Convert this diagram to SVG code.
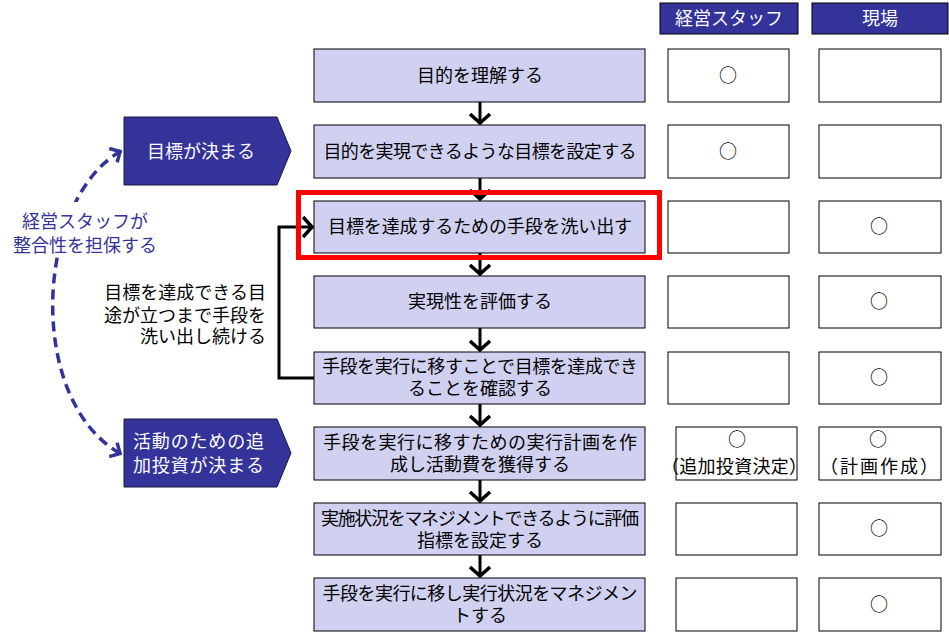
<svg xmlns="http://www.w3.org/2000/svg" width="949" height="639" viewBox="0 0 949 639">
<style>
text{font-family:"Noto Sans CJK JP","Noto Sans CJK SC",sans-serif;font-size:18px;fill:#000}
.step{fill:#d0d0f0;stroke:#000;stroke-width:1}
.cell{fill:#fff;stroke:#000;stroke-width:1}
.hdr{fill:#333399;stroke:#000;stroke-width:1}
.pent{fill:#333399;stroke:#1a1a40;stroke-width:1}
.w{fill:#fff}
.c{text-anchor:middle}
.r{text-anchor:end}
.blue{fill:#333399}
.conn{fill:none;stroke:#000;stroke-width:3}
.dash{fill:none;stroke:#333399;stroke-width:3.5;stroke-dasharray:10 6}
</style>
<defs>
<marker id="chev" viewBox="0 0 12 24" refX="11" refY="12" markerWidth="12" markerHeight="24" markerUnits="userSpaceOnUse" orient="auto">
<path d="M1,2 L10,12 L1,22" fill="none" stroke="#000" stroke-width="3.5"/>
</marker>
<marker id="chevb" viewBox="0 0 12 20" refX="10" refY="10" markerWidth="12" markerHeight="20" markerUnits="userSpaceOnUse" orient="auto-start-reverse">
<path d="M1,2 L9,10 L1,18" fill="none" stroke="#333399" stroke-width="3.5"/>
</marker>
</defs>

<g id="header-staff"><rect class="hdr" x="660" y="3" width="138" height="31"/><text class="w c" x="729" y="25" font-size="17">経営スタッフ</text></g>
<g id="header-genba"><rect class="hdr" x="812" y="3" width="136" height="31"/><text class="w c" x="880" y="25" font-size="17">現場</text></g>

<g id="connectors">
<line class="conn" x1="480" y1="102" x2="480" y2="124" marker-end="url(#chev)"/>
<line class="conn" x1="480" y1="178" x2="480" y2="200" marker-end="url(#chev)"/>
<line class="conn" x1="480" y1="253" x2="480" y2="275" marker-end="url(#chev)"/>
<line class="conn" x1="480" y1="328" x2="480" y2="351" marker-end="url(#chev)"/>
<line class="conn" x1="480" y1="404" x2="480" y2="426" marker-end="url(#chev)"/>
<line class="conn" x1="480" y1="480" x2="480" y2="502" marker-end="url(#chev)"/>
<line class="conn" x1="480" y1="555" x2="480" y2="577" marker-end="url(#chev)"/>
<path class="conn" d="M314,378 H279 V227 H313" marker-end="url(#chev)"/>
<path class="dash" d="M121,151 C35,200 25,400 121,454" marker-start="url(#chevb)" marker-end="url(#chevb)"/>
</g>

<g id="step1"><rect class="step" x="314" y="49" width="331" height="53"/><text class="c" x="480" y="82">目的を理解する</text></g>
<g id="step2"><rect class="step" x="314" y="125" width="331" height="53"/><text class="c" x="480" y="158" textLength="313">目的を実現できるような目標を設定する</text></g>
<g id="step3"><rect class="step" x="314" y="201" width="331" height="52"/><text class="c" x="480" y="233" textLength="304">目標を達成するための手段を洗い出す</text></g>
<g id="step4"><rect class="step" x="314" y="276" width="331" height="52"/><text class="c" x="480" y="308">実現性を評価する</text></g>
<g id="step5"><rect class="step" x="314" y="352" width="331" height="52"/><text class="c" x="480" y="373"><tspan x="480" textLength="316">手段を実行に移すことで目標を達成でき</tspan><tspan x="480" dy="22">ることを確認する</tspan></text></g>
<g id="step6"><rect class="step" x="314" y="427" width="331" height="53"/><text class="c" x="480" y="449"><tspan x="480" textLength="314">手段を実行に移すための実行計画を作</tspan><tspan x="480" dy="22">成し活動費を獲得する</tspan></text></g>
<g id="step7"><rect class="step" x="314" y="503" width="331" height="52"/><text class="c" x="480" y="525"><tspan x="480" textLength="318">実施状況をマネジメントできるように評価</tspan><tspan x="480" dy="22">指標を設定する</tspan></text></g>
<g id="step8"><rect class="step" x="314" y="578" width="331" height="53"/><text class="c" x="480" y="600"><tspan x="480" textLength="315">手段を実行に移し実行状況をマネジメン</tspan><tspan x="480" dy="22">トする</tspan></text></g>

<g id="highlight"><rect x="298.5" y="192.5" width="361" height="65" fill="none" stroke="#ff0000" stroke-width="5"/></g>

<g id="staff-cells">
<rect class="cell" x="668" y="49" width="121" height="53"/><text class="c" x="728" y="82">○</text>
<rect class="cell" x="668" y="125" width="121" height="53"/><text class="c" x="728" y="158">○</text>
<rect class="cell" x="668" y="201" width="121" height="52"/>
<rect class="cell" x="668" y="276" width="121" height="52"/>
<rect class="cell" x="668" y="352" width="121" height="52"/>
<rect class="cell" x="676" y="427" width="121" height="53"/><text class="c" x="737" y="446"><tspan x="737">○</tspan><tspan x="734" dy="27" textLength="146">（追加投資決定）</tspan></text>
<rect class="cell" x="676" y="503" width="121" height="52"/>
<rect class="cell" x="676" y="578" width="121" height="53"/>
</g>
<g id="genba-cells">
<rect class="cell" x="819" y="49" width="122" height="53"/>
<rect class="cell" x="819" y="125" width="122" height="53"/>
<rect class="cell" x="819" y="201" width="122" height="52"/><text class="c" x="879" y="233">○</text>
<rect class="cell" x="819" y="276" width="122" height="52"/><text class="c" x="879" y="308">○</text>
<rect class="cell" x="819" y="352" width="122" height="52"/><text class="c" x="879" y="384">○</text>
<rect class="cell" x="819" y="427" width="122" height="53"/><text class="c" x="878" y="446"><tspan x="878">○</tspan><tspan x="879" dy="27" textLength="118">（計画作成）</tspan></text>
<rect class="cell" x="819" y="503" width="122" height="52"/><text class="c" x="879" y="535">○</text>
<rect class="cell" x="819" y="578" width="122" height="53"/><text class="c" x="879" y="611">○</text>
</g>

<g id="goal-decided"><path class="pent" d="M124,117 H277 L291,151 L277,185 H124 Z"/><text class="w c" x="201" y="157.5">目標が決まる</text></g>
<g id="investment-decided"><path class="pent" d="M124,419 H277 L291,453 L277,487 H124 Z"/><text class="w" x="133" y="447.5"><tspan x="133" textLength="131">活動のための追</tspan><tspan x="133" dy="24" textLength="131">加投資が決まる</tspan></text></g>

<g id="staff-note"><rect x="8" y="202" width="154" height="55" fill="#fff"/><text class="blue c" x="85" y="228"><tspan x="85">経営スタッフが</tspan><tspan x="85" dy="23.5">整合性を担保する</tspan></text></g>

<g id="loop-note"><text class="r" x="266" y="299"><tspan x="266">目標を達成できる目</tspan><tspan x="266" dy="23">途が立つまで手段を</tspan><tspan x="266" dy="21">洗い出し続ける</tspan></text></g>
</svg>
